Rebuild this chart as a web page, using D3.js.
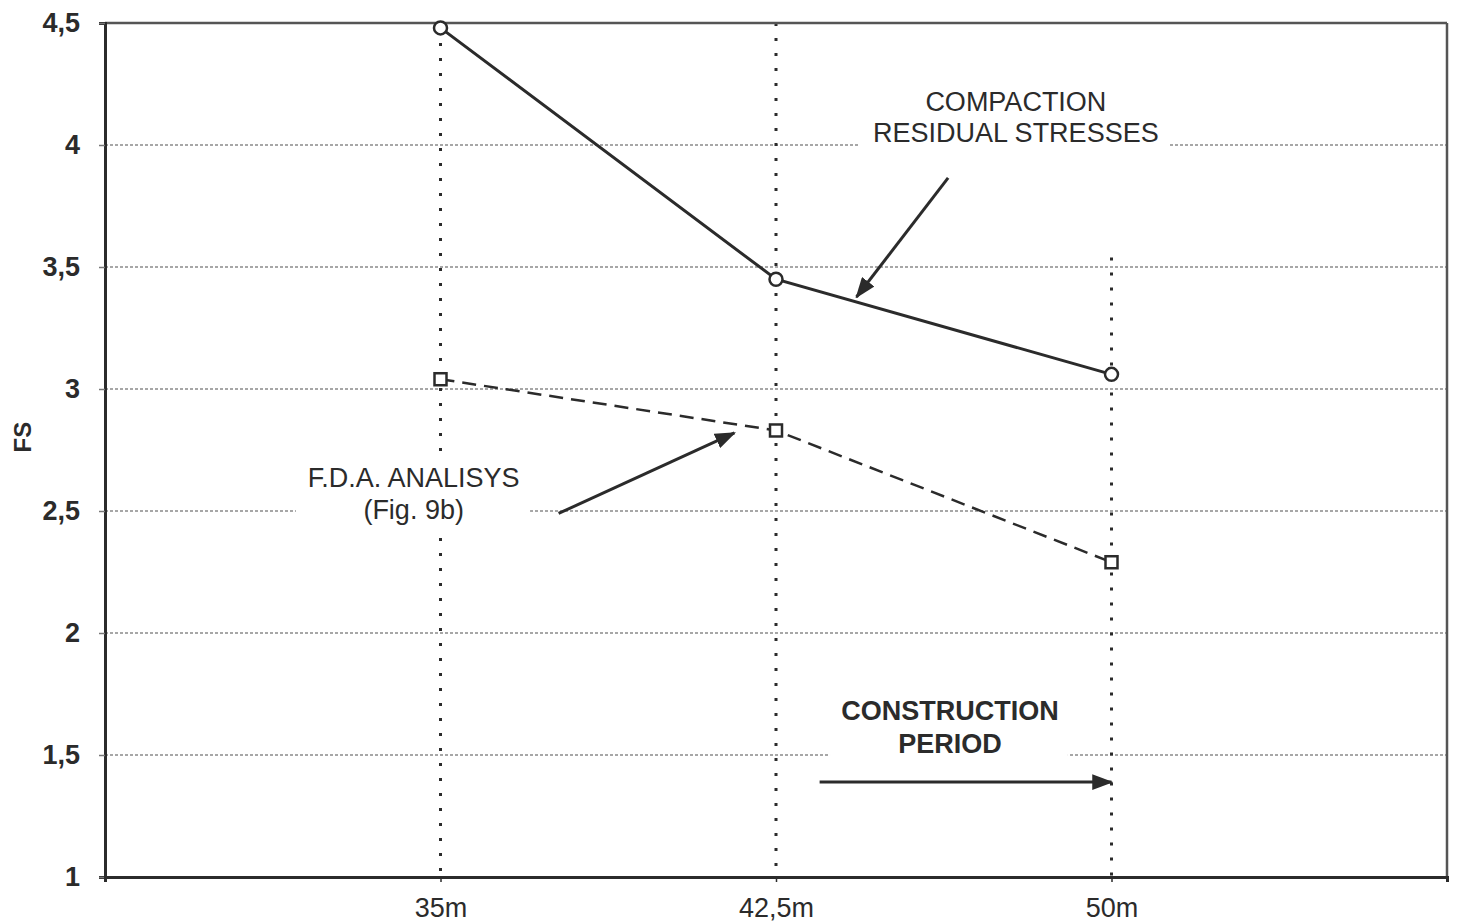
<!DOCTYPE html>
<html>
<head>
<meta charset="utf-8">
<script src="https://cdn.jsdelivr.net/npm/d3@7"></script>
<style>
    body { margin: 0; background: #fff; }
    svg { display: block; }
</style>
</head>
<body>
<svg class="fs-chart" width="1457" height="924"></svg>
<script>
// Data
const heights = ["35m", "42,5m", "50m"];
const compactionFS = [4.48, 3.45, 3.06];   // solid line, circles
const fdaFS = [3.04, 2.83, 2.29];          // dashed line, squares
const yTicks = [1, 1.5, 2, 2.5, 3, 3.5, 4, 4.5];

const fmt = v => String(v).replace(".", ",");

const svg = d3.select(".fs-chart");
const { width: svgWidth, height: svgHeight } = svg.node().getBoundingClientRect();

const margin = { top: 23, right: 10, bottom: 47, left: 105 };
const chartWidth = svgWidth - margin.left - margin.right;
const chartHeight = svgHeight - margin.top - margin.bottom;

const g = svg.append("g")
    .attr("transform", `translate(${margin.left},${margin.top})`);

// Scales
const x = d3.scalePoint()
    .domain(heights)
    .range([0, chartWidth])
    .padding(1);

// linear version of x (category index units) for the annotations
const xi = d3.scaleLinear()
    .domain([-1, heights.length])
    .range([0, chartWidth]);

const y = d3.scaleLinear()
    .domain([1, 4.5])
    .range([chartHeight, 0]);

const ink = "#2b2b2b";
const font = "'Liberation Sans', Arial, sans-serif";

// Horizontal grid
g.append("g")
    .selectAll("line")
    .data(yTicks.filter(t => t > 1 && t < 4.5))
    .join("line")
    .attr("x1", 0)
    .attr("x2", chartWidth)
    .attr("y1", d => y(d))
    .attr("y2", d => y(d))
    .attr("stroke", "#8a8a8a")
    .attr("stroke-width", 1.5)
    .attr("stroke-dasharray", "3,2");

// Vertical dotted lines at each height (the 50m one starts lower)
const vStart = { "35m": 4.48, "42,5m": 4.5, "50m": 3.6 };
g.append("g")
    .selectAll("line")
    .data(heights)
    .join("line")
    .attr("x1", d => x(d))
    .attr("x2", d => x(d))
    .attr("y1", d => y(vStart[d]))
    .attr("y2", chartHeight)
    .attr("stroke", ink)
    .attr("stroke-width", 3)
    .attr("stroke-dasharray", "3,12");

// White boxes behind annotation text (they hide grid lines in the original)
const boxes = [
    { x0: 1.25, x1: 2.174, y0: 4.25, y1: 3.57 },
    { x0: -0.431, x1: 0.267, y0: 2.72, y1: 2.4 },
    { x0: 1.161, x1: 1.87, y0: 1.77, y1: 1.46 }
];
g.append("g")
    .selectAll("rect")
    .data(boxes)
    .join("rect")
    .attr("x", d => xi(d.x0))
    .attr("y", d => y(d.y0))
    .attr("width", d => xi(d.x1) - xi(d.x0))
    .attr("height", d => y(d.y1) - y(d.y0))
    .attr("fill", "#fff");

// Frame: top/right lighter, left/bottom heavy
g.append("line").attr("x1", 0).attr("x2", chartWidth).attr("y1", 0).attr("y2", 0)
    .attr("stroke", "#555").attr("stroke-width", 2.5);
g.append("line").attr("x1", chartWidth).attr("x2", chartWidth).attr("y1", 0).attr("y2", chartHeight)
    .attr("stroke", "#555").attr("stroke-width", 2.5);

// Axes
const yAxis = g.append("g")
    .call(d3.axisLeft(y).tickValues(yTicks).tickFormat(fmt).tickSize(6).tickPadding(19));
yAxis.select(".domain").attr("stroke", ink).attr("stroke-width", 3);
yAxis.selectAll(".tick line").attr("stroke", "#777").attr("stroke-width", 1.5);
yAxis.selectAll("text")
    .attr("font-family", font)
    .attr("font-size", 27)
    .attr("font-weight", "bold")
    .attr("fill", ink);

const xAxis = g.append("g")
    .attr("transform", `translate(0,${chartHeight})`)
    .call(d3.axisBottom(x).tickSize(5).tickPadding(16));
xAxis.select(".domain").attr("stroke", ink).attr("stroke-width", 3);
xAxis.selectAll(".tick line").attr("stroke", ink).attr("stroke-width", 1.5);
xAxis.selectAll("text")
    .attr("font-family", font)
    .attr("font-size", 27)
    .attr("fill", ink);

// Y axis label
g.append("text")
    .text("FS")
    .attr("transform", "rotate(-90)")
    .attr("x", -y(2.803))
    .attr("y", -74)
    .attr("text-anchor", "middle")
    .attr("font-family", font)
    .attr("font-size", 24)
    .attr("font-weight", "bold")
    .attr("fill", ink);

// Series lines
const line = d3.line()
    .x((d, i) => x(heights[i]))
    .y(d => y(d));

g.append("path")
    .datum(compactionFS)
    .attr("d", line)
    .attr("fill", "none")
    .attr("stroke", ink)
    .attr("stroke-width", 3);

g.append("path")
    .datum(fdaFS)
    .attr("d", line)
    .attr("fill", "none")
    .attr("stroke", ink)
    .attr("stroke-width", 2.5)
    .attr("stroke-dasharray", "14,8");

// Markers
g.selectAll(".circle-marker")
    .data(compactionFS)
    .join("circle")
    .attr("class", "circle-marker")
    .attr("cx", (d, i) => x(heights[i]))
    .attr("cy", d => y(d))
    .attr("r", 6.5)
    .attr("fill", "#fff")
    .attr("stroke", ink)
    .attr("stroke-width", 2.5);

g.selectAll(".square-marker")
    .data(fdaFS)
    .join("rect")
    .attr("class", "square-marker")
    .attr("x", (d, i) => x(heights[i]) - 6)
    .attr("y", d => y(d) - 6)
    .attr("width", 12)
    .attr("height", 12)
    .attr("fill", "#fff")
    .attr("stroke", ink)
    .attr("stroke-width", 2.5);

// Arrow heads
svg.append("defs").append("marker")
    .attr("id", "arrow")
    .attr("viewBox", "0 0 12 9")
    .attr("refX", 11)
    .attr("refY", 4.5)
    .attr("markerWidth", 7)
    .attr("markerHeight", 5.25)
    .attr("markerUnits", "strokeWidth")
    .attr("orient", "auto")
    .append("path")
    .attr("d", "M0,0 L12,4.5 L0,9 z")
    .attr("fill", ink);

// Annotations (positions in category-index / FS units)
const labels = [
    { text: "COMPACTION", xv: 1.715, yv: 4.139, weight: "normal", size: 27 },
    { text: "RESIDUAL STRESSES", xv: 1.715, yv: 4.012, weight: "normal", size: 27 },
    { text: "F.D.A. ANALISYS", xv: -0.08, yv: 2.598, weight: "normal", size: 27 },
    { text: "(Fig. 9b)", xv: -0.08, yv: 2.467, weight: "normal", size: 27 },
    { text: "CONSTRUCTION", xv: 1.519, yv: 1.643, weight: "bold", size: 27 },
    { text: "PERIOD", xv: 1.519, yv: 1.508, weight: "bold", size: 27 }
];
g.append("g")
    .selectAll("text")
    .data(labels)
    .join("text")
    .text(d => d.text)
    .attr("x", d => xi(d.xv))
    .attr("y", d => y(d.yv))
    .attr("text-anchor", "middle")
    .attr("font-family", font)
    .attr("font-size", d => d.size)
    .attr("font-weight", d => d.weight)
    .attr("fill", ink);

const arrows = [
    { x1: 1.513, y1: 3.865, x2: 1.24, y2: 3.377 },
    { x1: 0.352, y1: 2.49, x2: 0.876, y2: 2.82 },
    { x1: 1.13, y1: 1.389, x2: 2, y2: 1.389 }
];
g.append("g")
    .selectAll("line")
    .data(arrows)
    .join("line")
    .attr("x1", d => xi(d.x1))
    .attr("y1", d => y(d.y1))
    .attr("x2", d => xi(d.x2))
    .attr("y2", d => y(d.y2))
    .attr("stroke", ink)
    .attr("stroke-width", 3)
    .attr("marker-end", "url(#arrow)");
</script>
</body>
</html>
